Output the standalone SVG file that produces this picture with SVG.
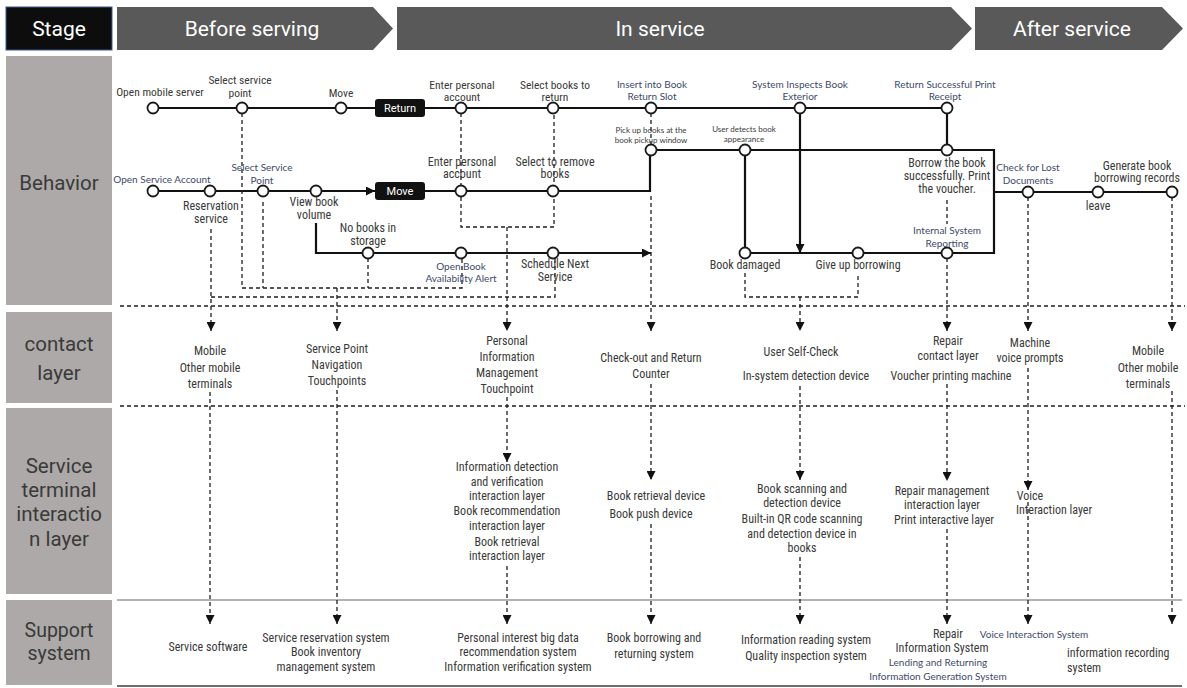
<svg xmlns="http://www.w3.org/2000/svg" width="1187" height="688" viewBox="0 0 1187 688">
<style>
.t{font-family:"Liberation Sans Narrow","Roboto Condensed","DejaVu Sans Condensed","Liberation Sans",sans-serif;font-size:11.5px;fill:#3a3a3a;text-anchor:middle}
.m{font-size:12px}
.b{font-family:Lato,"Noto Sans",sans-serif;font-size:10px;fill:#3d4a6a;text-anchor:middle}
.tiny{font-family:Lato,"Noto Sans",sans-serif;font-size:8px;fill:#3a3a3a;text-anchor:middle}
.hd{font-family:Roboto,"Liberation Sans",sans-serif;font-size:21px;fill:#fff;text-anchor:middle}
.sd{font-family:Roboto,"Liberation Sans",sans-serif;font-size:20.5px;fill:#3a3a3a;text-anchor:middle}
.side{fill:#aca9a8}
.hdr{fill:#595959}
.solid{stroke:#111;stroke-width:2.2;fill:none}
.dash{stroke:#1e1e1e;stroke-width:1.3;stroke-dasharray:4 3;fill:none}
.node{fill:#fff;stroke:#1a1a1a;stroke-width:1.8}
.box{fill:#111}
.bt{font-family:Roboto,"Liberation Sans",sans-serif;font-size:11px;fill:#fff;text-anchor:middle}
</style>
<defs>
<marker id="ah" viewBox="0 0 10 10" refX="10" refY="5" markerWidth="13" markerHeight="9" markerUnits="userSpaceOnUse" orient="auto"><path d="M0,0 L10,5 L0,10 z" fill="#111"/></marker>
<marker id="ad" viewBox="0 0 10 10" refX="10" refY="5" markerWidth="13" markerHeight="9" markerUnits="userSpaceOnUse" orient="auto"><path d="M0,0 L10,5 L0,10 z" fill="#111"/></marker>
</defs>
<rect width="1187" height="688" fill="#fff"/>

<g id="headers">
<g id="h-stage"><rect x="6" y="7" width="106" height="43" fill="#0d0d0d" stroke="#3b5a8f" stroke-width="1"/><text x="59" y="36" class="hd">Stage</text></g>
<g id="h-before"><polygon class="hdr" points="117,7 373,7 393,28.5 373,50 117,50"/><text x="252" y="36" class="hd">Before serving</text></g>
<g id="h-in"><polygon class="hdr" points="397,7 951,7 972,28.5 951,50 397,50"/><text x="660" y="36" class="hd">In service</text></g>
<g id="h-after"><polygon class="hdr" points="975,7 1162,7 1183,28.5 1162,50 975,50"/><text x="1072" y="36" class="hd">After service</text></g>
</g>

<g id="lanes">
<g id="l-behavior"><rect class="side" x="6" y="56" width="106" height="249"/><text x="59" y="190" class="sd">Behavior</text></g>
<g id="l-contact"><rect class="side" x="6" y="312" width="106" height="91"/><text class="sd"><tspan x="59" y="351">contact</tspan><tspan x="59" y="380">layer</tspan></text></g>
<g id="l-terminal"><rect class="side" x="6" y="408" width="106" height="186"/><text class="sd"><tspan x="59" y="473">Service</tspan><tspan x="59" y="497">terminal</tspan><tspan x="59" y="521">interactio</tspan><tspan x="59" y="546">n layer</tspan></text></g>
<g id="l-support"><rect class="side" x="6" y="600" width="106" height="85"/><text class="sd" style="font-size:19.5px"><tspan x="59" y="637">Support</tspan><tspan x="59" y="660">system</tspan></text></g>
<line x1="120" y1="306" x2="1185" y2="306" class="dash"/>
<line x1="120" y1="406" x2="1185" y2="406" class="dash"/>
<line x1="117" y1="600" x2="1182" y2="600" stroke="#9a9a9a" stroke-width="1.5"/>
<line x1="117" y1="686" x2="1182" y2="686" stroke="#6d6d6d" stroke-width="1.8"/>
</g>

<g id="connectors">
<path class="solid" d="M153,108 H947"/>
<path class="solid" d="M153,191 H375" marker-end="url(#ah)"/>
<path class="solid" d="M425,191 H650 V150"/>
<path class="solid" d="M651,150 H994 V253 H745"/>
<path class="solid" d="M745,150 V253"/>
<path class="solid" d="M947,108 V150"/>
<path class="solid" d="M800,108 V253" marker-end="url(#ah)"/>
<path class="solid" d="M316,223 V253 H651" marker-end="url(#ah)"/>
<path class="solid" d="M994,192 H1172"/>

<path class="dash" d="M242,113 V288 H462 V258"/>
<path class="dash" d="M263,202 V288"/>
<path class="dash" d="M368,258 V288"/>
<path class="dash" d="M337,288 V331" marker-end="url(#ad)"/>
<path class="dash" d="M211,229 V331" marker-end="url(#ad)"/>
<path class="dash" d="M211,297 H555 V258"/>
<path class="dash" d="M461,113 V227 H554 V113"/>
<path class="dash" d="M507,227 V331" marker-end="url(#ad)"/>
<path class="dash" d="M651,113 V145"/>
<path class="dash" d="M651,196 V331" marker-end="url(#ad)"/>
<path class="dash" d="M745,273 V297 H858 V273"/>
<path class="dash" d="M800,297 V331" marker-end="url(#ad)"/>
<path class="dash" d="M947,200 V224"/>
<path class="dash" d="M947,258 V331" marker-end="url(#ad)"/>
<path class="dash" d="M1028,197 V331" marker-end="url(#ad)"/>
<path class="dash" d="M1172,197 V331" marker-end="url(#ad)"/>

<path class="dash" d="M210,392 V624" marker-end="url(#ad)"/>
<path class="dash" d="M337,390 V624" marker-end="url(#ad)"/>
<path class="dash" d="M507,397 V462" marker-end="url(#ad)"/>
<path class="dash" d="M651,384 V480" marker-end="url(#ad)"/>
<path class="dash" d="M800,386 V480" marker-end="url(#ad)"/>
<path class="dash" d="M947,384 V481" marker-end="url(#ad)"/>
<path class="dash" d="M1028,368 V490" marker-end="url(#ad)"/>
<path class="dash" d="M1172,391 V624" marker-end="url(#ad)"/>

<path class="dash" d="M507,566 V624" marker-end="url(#ad)"/>
<path class="dash" d="M651,524 V624" marker-end="url(#ad)"/>
<path class="dash" d="M800,557 V624" marker-end="url(#ad)"/>
<path class="dash" d="M947,529 V624" marker-end="url(#ad)"/>
<path class="dash" d="M1028,502 V624" marker-end="url(#ad)"/>
</g>

<g id="behavior">
<g id="n-open-mobile"><circle class="node" cx="153" cy="108" r="5.5"/><text x="160" y="96" class="t">Open mobile server</text></g>
<g id="n-select-point1"><circle class="node" cx="242" cy="108" r="5.5"/><text class="t"><tspan x="240" y="84">Select service</tspan><tspan x="240" y="97">point</tspan></text></g>
<g id="n-move1"><circle class="node" cx="341" cy="108" r="5.5"/><text x="341" y="97" class="t">Move</text></g>
<g id="n-return-box"><rect class="box" x="375" y="99" width="50" height="18" rx="3"/><text x="400" y="112" class="bt">Return</text></g>
<g id="n-enter1"><circle class="node" cx="461" cy="108" r="5.5"/><text class="t"><tspan x="462" y="89">Enter personal</tspan><tspan x="462" y="101">account</tspan></text></g>
<g id="n-select-return"><circle class="node" cx="553" cy="108" r="5.5"/><text class="t"><tspan x="555" y="89">Select books to</tspan><tspan x="555" y="101">return</tspan></text></g>
<g id="n-insert"><circle class="node" cx="651" cy="108" r="5.5"/><text class="b"><tspan x="652" y="88">Insert into Book</tspan><tspan x="652" y="100">Return Slot</tspan></text></g>
<g id="n-inspect"><circle class="node" cx="800" cy="108" r="5.5"/><text class="b"><tspan x="800" y="88">System Inspects Book</tspan><tspan x="800" y="100">Exterior</tspan></text></g>
<g id="n-receipt"><circle class="node" cx="947" cy="108" r="5.5"/><text class="b"><tspan x="945" y="88">Return Successful Print</tspan><tspan x="945" y="100">Receipt</tspan></text></g>

<g id="n-pickup"><circle class="node" cx="651" cy="150" r="5.5"/><text class="tiny"><tspan x="651" y="133">Pick up books at the</tspan><tspan x="651" y="143">book pickup window</tspan></text></g>
<g id="n-user-detects"><circle class="node" cx="745" cy="150" r="5.5"/><text class="tiny"><tspan x="744" y="132">User detects book</tspan><tspan x="744" y="142">appearance</tspan></text></g>
<g id="n-borrow-ok"><circle class="node" cx="947" cy="150" r="5.5"/><text class="t m"><tspan x="947" y="167">Borrow the book</tspan><tspan x="947" y="180">successfully. Print</tspan><tspan x="947" y="193">the voucher.</tspan></text></g>

<g id="n-open-account"><circle class="node" cx="153" cy="191" r="5.5"/><text x="162" y="183" class="b">Open Service Account</text></g>
<g id="n-reservation"><circle class="node" cx="210" cy="191" r="5.5"/><text class="t m"><tspan x="211" y="210">Reservation</tspan><tspan x="211" y="223">service</tspan></text></g>
<g id="n-select-point2"><circle class="node" cx="263" cy="191" r="5.5"/><text class="b"><tspan x="262" y="171">Select Service</tspan><tspan x="262" y="184">Point</tspan></text></g>
<g id="n-view"><circle class="node" cx="316" cy="191" r="5.5"/><text class="t m"><tspan x="314" y="206">View book</tspan><tspan x="314" y="219">volume</tspan></text></g>
<g id="n-move-box"><rect class="box" x="375" y="182" width="50" height="18" rx="3"/><text x="400" y="195" class="bt">Move</text></g>
<g id="n-enter2"><circle class="node" cx="461" cy="191" r="5.5"/><text class="t m"><tspan x="462" y="166">Enter personal</tspan><tspan x="462" y="178">account</tspan></text></g>
<g id="n-select-remove"><circle class="node" cx="553" cy="191" r="5.5"/><text class="t m"><tspan x="555" y="166">Select to remove</tspan><tspan x="555" y="178">books</tspan></text></g>

<g id="n-no-books"><circle class="node" cx="368" cy="253" r="5.5"/><text class="t m"><tspan x="368" y="232">No books in</tspan><tspan x="368" y="245">storage</tspan></text></g>
<g id="n-alert"><circle class="node" cx="461" cy="253" r="5.5"/><text class="b"><tspan x="461" y="270">Open Book</tspan><tspan x="461" y="282">Availability Alert</tspan></text></g>
<g id="n-schedule"><circle class="node" cx="553" cy="253" r="5.5"/><text class="t m"><tspan x="555" y="268">Schedule Next</tspan><tspan x="555" y="281">Service</tspan></text></g>
<g id="n-damaged"><circle class="node" cx="745" cy="253" r="5.5"/><text x="745" y="269" class="t m">Book damaged</text></g>
<g id="n-give-up"><circle class="node" cx="858" cy="253" r="5.5"/><text x="858" y="269" class="t m">Give up borrowing</text></g>
<g id="n-internal"><circle class="node" cx="947" cy="253" r="5.5"/><text class="b"><tspan x="947" y="234">Internal System</tspan><tspan x="947" y="247">Reporting</tspan></text></g>

<g id="n-lost"><circle class="node" cx="1028" cy="192" r="5.5"/><text class="b"><tspan x="1028" y="171">Check for Lost</tspan><tspan x="1028" y="184">Documents</tspan></text></g>
<g id="n-leave"><circle class="node" cx="1098" cy="192" r="5.5"/><text x="1098" y="210" class="t m">leave</text></g>
<g id="n-records"><circle class="node" cx="1172" cy="192" r="5.5"/><text class="t m"><tspan x="1137" y="170">Generate book</tspan><tspan x="1137" y="182">borrowing records</tspan></text></g>
</g>

<g id="contact">
<g id="c-mobile1"><text class="t m"><tspan x="210" y="355">Mobile</tspan><tspan x="210" y="372">Other mobile</tspan><tspan x="210" y="388">terminals</tspan></text></g>
<g id="c-navigation"><text class="t m"><tspan x="337" y="353">Service Point</tspan><tspan x="337" y="369">Navigation</tspan><tspan x="337" y="385">Touchpoints</tspan></text></g>
<g id="c-personal"><text class="t m"><tspan x="507" y="345">Personal</tspan><tspan x="507" y="361">Information</tspan><tspan x="507" y="377">Management</tspan><tspan x="507" y="393">Touchpoint</tspan></text></g>
<g id="c-counter"><text class="t m"><tspan x="651" y="362">Check-out and Return</tspan><tspan x="651" y="378">Counter</tspan></text></g>
<g id="c-selfcheck"><text class="t m"><tspan x="801" y="356">User Self-Check</tspan><tspan x="806" y="380">In-system detection device</tspan></text></g>
<g id="c-repair"><text class="t m"><tspan x="948" y="345">Repair</tspan><tspan x="948" y="360">contact layer</tspan><tspan x="951" y="380">Voucher printing machine</tspan></text></g>
<g id="c-voice"><text class="t m"><tspan x="1030" y="347">Machine</tspan><tspan x="1030" y="362">voice prompts</tspan></text></g>
<g id="c-mobile2"><text class="t m"><tspan x="1148" y="355">Mobile</tspan><tspan x="1148" y="372">Other mobile</tspan><tspan x="1148" y="388">terminals</tspan></text></g>
</g>

<g id="terminal">
<g id="t-info"><text class="t m"><tspan x="507" y="471">Information detection</tspan><tspan x="507" y="486">and verification</tspan><tspan x="507" y="500">interaction layer</tspan><tspan x="507" y="515">Book recommendation</tspan><tspan x="507" y="530">interaction layer</tspan><tspan x="507" y="546">Book retrieval</tspan><tspan x="507" y="560">interaction layer</tspan></text></g>
<g id="t-retrieval"><text class="t m"><tspan x="656" y="500">Book retrieval device</tspan><tspan x="651" y="518">Book push device</tspan></text></g>
<g id="t-scan"><text class="t m"><tspan x="802" y="493">Book scanning and</tspan><tspan x="802" y="507">detection device</tspan><tspan x="802" y="523">Built-in QR code scanning</tspan><tspan x="802" y="538">and detection device in</tspan><tspan x="802" y="552">books</tspan></text></g>
<g id="t-repair"><text class="t m"><tspan x="942" y="495">Repair management</tspan><tspan x="942" y="509">interaction layer</tspan><tspan x="944" y="524">Print interactive layer</tspan></text></g>
<g id="t-voice"><text class="t m"><tspan x="1030" y="500">Voice</tspan><tspan x="1054" y="514">Interaction layer</tspan></text></g>
</g>

<g id="support">
<g id="s-software"><text x="208" y="651" class="t m">Service software</text></g>
<g id="s-reservation"><text class="t m"><tspan x="326" y="642">Service reservation system</tspan><tspan x="326" y="656">Book inventory</tspan><tspan x="326" y="671">management system</tspan></text></g>
<g id="s-interest"><text class="t m"><tspan x="518" y="642">Personal interest big data</tspan><tspan x="518" y="656">recommendation system</tspan><tspan x="518" y="671">Information verification system</tspan></text></g>
<g id="s-borrowing"><text class="t m"><tspan x="654" y="642">Book borrowing and</tspan><tspan x="654" y="658">returning system</tspan></text></g>
<g id="s-reading"><text class="t m"><tspan x="806" y="644">Information reading system</tspan><tspan x="806" y="660">Quality inspection system</tspan></text></g>
<g id="s-repair"><text class="t m"><tspan x="948" y="638">Repair</tspan><tspan x="942" y="652">Information System</tspan></text><text class="b"><tspan x="938" y="666">Lending and Returning</tspan><tspan x="938" y="680">Information Generation System</tspan></text></g>
<g id="s-voice"><text x="1034" y="638" class="b">Voice Interaction System</text></g>
<g id="s-recording"><text class="t m" style="text-anchor:start"><tspan x="1067" y="657">information recording</tspan><tspan x="1067" y="672">system</tspan></text></g>
</g>
</svg>
